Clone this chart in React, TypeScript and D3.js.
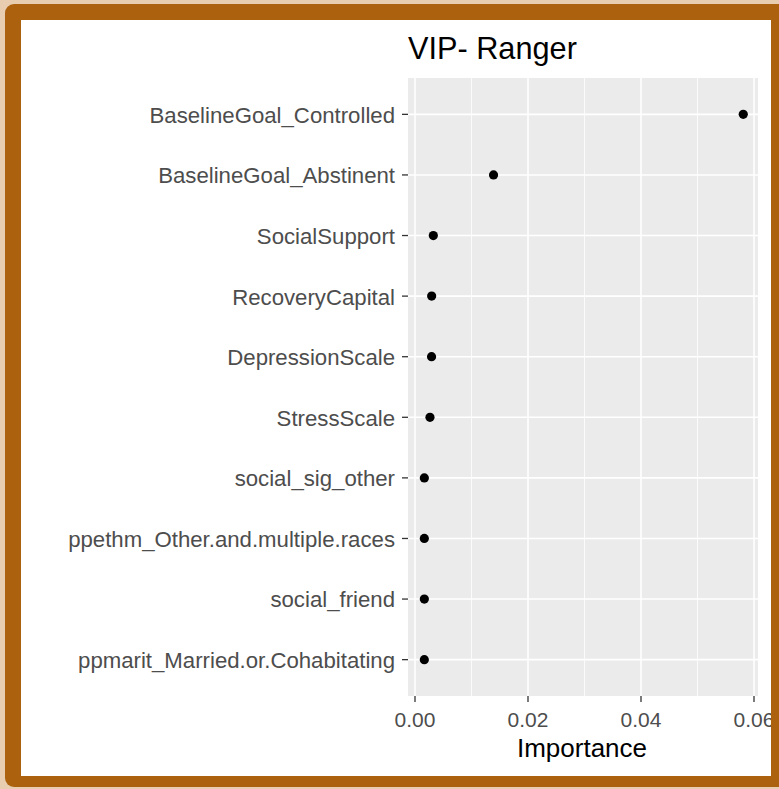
import React from "react";
import * as d3 from "d3";

const variables = [
  "BaselineGoal_Controlled",
  "BaselineGoal_Abstinent",
  "SocialSupport",
  "RecoveryCapital",
  "DepressionScale",
  "StressScale",
  "social_sig_other",
  "ppethm_Other.and.multiple.races",
  "social_friend",
  "ppmarit_Married.or.Cohabitating",
];
const importance = [0.0581, 0.0139, 0.00324, 0.00295, 0.00293, 0.00265, 0.00165, 0.00165, 0.00165, 0.00165];
const majorTicks = [0, 0.02, 0.04, 0.06];
const minorTicks = [0.01, 0.03, 0.05];
const tickLabels = ["0.00", "0.02", "0.04", "0.06"];

const W = 779;
const H = 789;
const panel = { left: 408, right: 758, top: 78, bottom: 696 };

export default function App() {
  const x = d3.scaleLinear().domain([0, 0.06]).range([415, 754]);
  const y = d3
    .scalePoint<string>()
    .domain(variables)
    .range([panel.top, panel.bottom])
    .padding(0.6);
  const font = "'Liberation Sans', Arial, sans-serif";

  return (
    <div style={{ position: "absolute", left: 0, top: 0 }}>
      <svg width={W} height={H} style={{ display: "block" }}>
        <rect x={0} y={0} width={W} height={H} fill="#e8cdb0" />
        <rect x={5} y={4} width={W + 20} height={783} rx={9} fill="#ab610e" />
        <rect x={21} y={20} width={750} height={756} fill="#ffffff" />

        {/* panel */}
        <rect
          x={panel.left}
          y={panel.top}
          width={panel.right - panel.left}
          height={panel.bottom - panel.top}
          fill="#ebebeb"
        />
        {minorTicks.map((t) => (
          <line key={"mi" + t} x1={x(t)} x2={x(t)} y1={panel.top} y2={panel.bottom} stroke="#fff" strokeWidth={0.8} />
        ))}
        {majorTicks.map((t) => (
          <line key={"ma" + t} x1={x(t)} x2={x(t)} y1={panel.top} y2={panel.bottom} stroke="#fff" strokeWidth={1.6} />
        ))}
        {variables.map((v) => (
          <line key={"h" + v} x1={panel.left} x2={panel.right} y1={y(v)!} y2={y(v)!} stroke="#fff" strokeWidth={1.6} />
        ))}

        {/* points */}
        {variables.map((v, i) => (
          <circle key={"p" + v} cx={x(importance[i])} cy={y(v)!} r={4.6} fill="#000" />
        ))}

        {/* y axis */}
        {variables.map((v) => (
          <g key={"yl" + v}>
            <line x1={panel.left - 6} x2={panel.left} y1={y(v)!} y2={y(v)!} stroke="#333" strokeWidth={1.3} />
            <text
              x={395}
              y={y(v)!}
              dy="0.38em"
              textAnchor="end"
              fontFamily={font}
              fontSize={22.2}
              fill="#4d4d4d"
            >
              {v}
            </text>
          </g>
        ))}

        {/* x axis */}
        {majorTicks.map((t, i) => (
          <g key={"xt" + t}>
            <line x1={x(t)} x2={x(t)} y1={panel.bottom} y2={panel.bottom + 6} stroke="#333" strokeWidth={1.3} />
            <text
              x={x(t)}
              y={727}
              textAnchor="middle"
              fontFamily={font}
              fontSize={21}
              fill="#4d4d4d"
            >
              {tickLabels[i]}
            </text>
          </g>
        ))}
        <text x={(panel.left + panel.right) / 2 - 1} y={757} textAnchor="middle" fontFamily={font} fontSize={26} fill="#000">
          Importance
        </text>
        <text x={408} y={59} fontFamily={font} fontSize={30.7} fill="#000">
          VIP- Ranger
        </text>

        {/* frame overdraw on right so labels get clipped */}
        <rect x={771} y={4} width={20} height={783} fill="#ab610e" />
      </svg>
    </div>
  );
}
